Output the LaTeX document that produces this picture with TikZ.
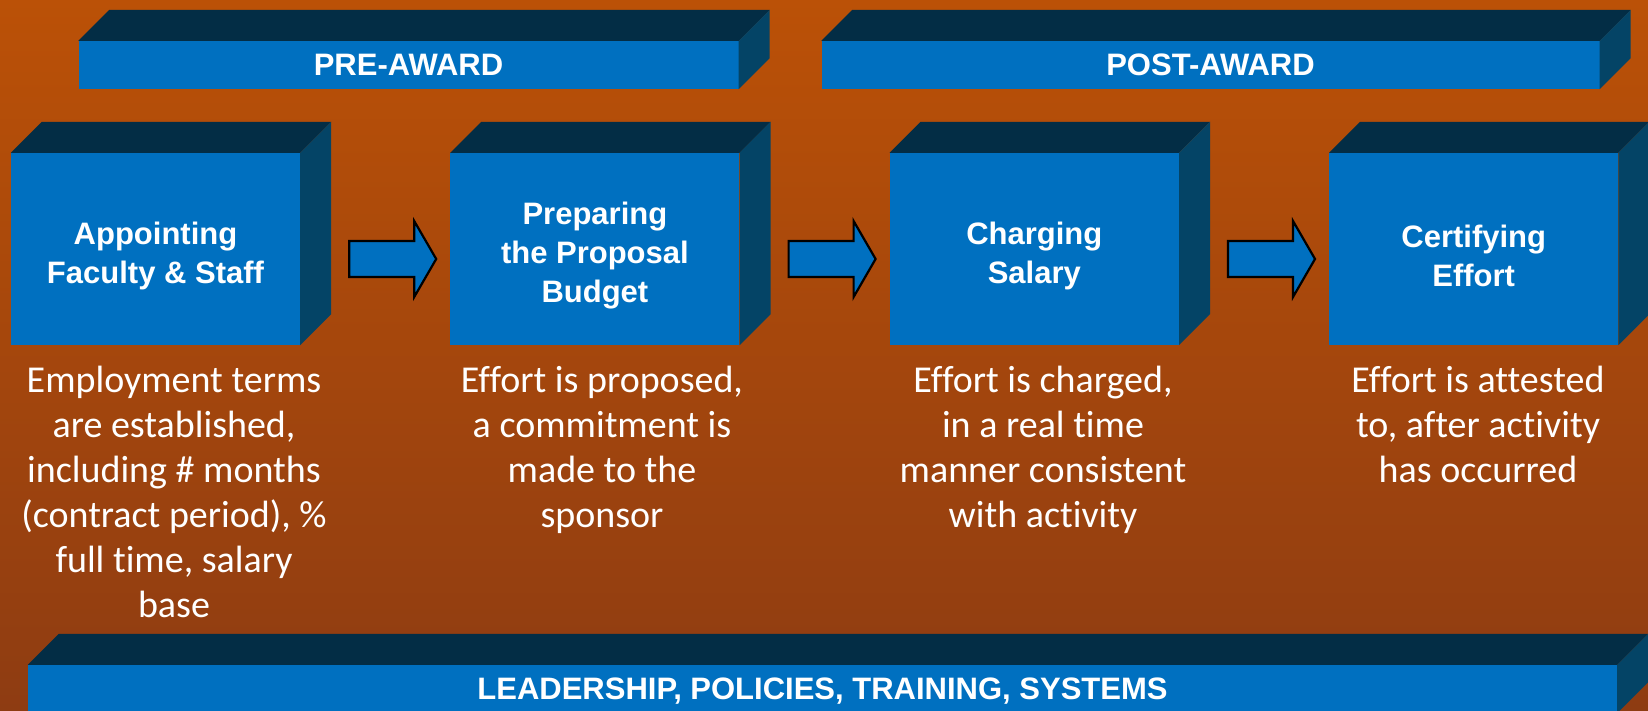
\documentclass[tikz,border=0pt]{standalone}
\usepackage{fontspec}
\setmainfont{Liberation Sans}
\newfontfamily\notefont[Ligatures=NoCommon]{Carlito}
\usetikzlibrary{positioning}

\definecolor{frontc}{HTML}{0070C0}
\definecolor{topc}{HTML}{032D45}
\definecolor{sidec}{HTML}{044466}
\definecolor{bgtop}{HTML}{BB5107}
\definecolor{bgbot}{HTML}{8E3C12}

\tikzset{
  face/.style={fill=frontc, text=white, inner sep=0pt, align=center,
    font=\fontsize{31}{39}\selectfont\bfseries},
  stepbox/.style={face, minimum width=289pt, minimum height=192pt},
  steptitle/.style={text=white, inner sep=0pt, align=center,
    font=\fontsize{31}{39}\selectfont\bfseries},
  bar/.style={face, minimum height=48pt, text depth=0pt},
  note/.style={text=white, inner sep=0pt, align=center, anchor=north,
    font=\notefont\fontsize{38}{45}\selectfont},
  blockarrow/.pic={
    \draw[fill=frontc, line width=2.2pt, line join=miter]
      (0,-18) -- (65,-18) -- (65,-38) -- (87,0) -- (65,38) -- (65,18) -- (0,18) -- cycle;}
}

% top and right faces of a block, hung on the front node
\newcommand{\slab}[1]{%
  \fill[topc] (#1.north west) -- ++(31pt,31pt) -- ([shift={(31pt,31pt)}]#1.north east) -- (#1.north east) -- cycle;
  \fill[sidec] (#1.north east) -- ++(31pt,31pt) -- ([shift={(31pt,31pt)}]#1.south east) -- (#1.south east) -- cycle;}

\begin{document}
\begin{tikzpicture}[x=1pt, y=-1pt]
\useasboundingbox (0,0) rectangle (1648,711);
\clip (0,0) rectangle (1648,711);
\shade[top color=bgtop, bottom color=bgbot] (0,0) rectangle (1648,711);

% phase bars
\node[bar, minimum width=660pt] (pre) at (408.5,65) {PRE-AWARD};
\node[bar, minimum width=778pt] (post) at (1210.5,65) {POST-AWARD};
\node[bar, minimum width=1589pt] (support) at (822.5,689) {LEADERSHIP, POLICIES, TRAINING, SYSTEMS};

% steps
\node[stepbox] (s1) at (155.5,249) {};
\node[stepbox, right=150pt of s1] (s2) {};
\node[stepbox, right=150pt of s2] (s3) {};
\node[stepbox, right=150pt of s3] (s4) {};

\foreach \n in {pre,post,support,s1,s2,s3,s4} {\slab{\n}}

\node[steptitle] (t1) at ([yshift=-7pt]s1.center) {Appointing\\Faculty \& Staff};
\node[steptitle] (t2) at ([yshift=-7pt]s2.center) {Preparing\\the Proposal\\Budget};
\node[steptitle] (t3) at ([yshift=-7pt]s3.center) {Charging\\Salary};
\node[steptitle] (t4) at ([yshift=-7pt]s4.center) {Certifying\\Effort};

\foreach \a in {s1,s2,s3}
  \pic at ([xshift=49pt, yshift=-10pt]\a.east) {blockarrow};

% what happens at each step
\node[note] (n1) at (174,366) {Employment terms\\are established,\\including \# months\\(contract period), \%\\full time, salary\\base};
\node[note] (n2) at (602,366) {Effort is proposed,\\a commitment is\\made to the\\sponsor};
\node[note] (n3) at (1043,366) {Effort is charged,\\in a real time\\manner consistent\\with activity};
\node[note] (n4) at (1478,366) {Effort is attested\\to, after activity\\has occurred};
\end{tikzpicture}
\end{document}
